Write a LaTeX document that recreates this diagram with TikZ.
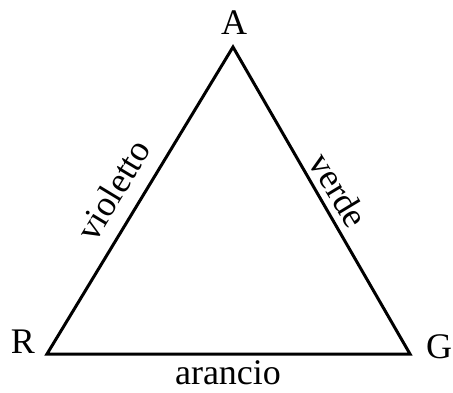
\documentclass[tikz,border=0pt]{standalone}
\usepackage{fontspec}
\setmainfont{Liberation Serif}
\begin{document}
\begin{tikzpicture}[x=1pt,y=1pt,
  lbl/.style={font=\fontsize{36}{42}\selectfont, inner sep=0pt},
  side/.style={line width=3pt, line join=miter}]
\useasboundingbox (0,0) rectangle (453,392);
\coordinate (a) at (233,345);
\coordinate (r) at (47,38);
\coordinate (g) at (410,38);
\draw[side] (a) -- (r) -- (g) -- cycle;
\node[lbl] (la) at (234,369) {A};
\node[lbl] (lr) at (23,50) {R};
\node[lbl] (lg) at (439,45) {G};
\node[lbl] (lar) at (228,19) {arancio};
\node[lbl, rotate=58.8] (lv) at (113,202) {violetto};
\node[lbl, rotate=-58.8] (lve) at (339,202) {verde};
\end{tikzpicture}
\end{document}
